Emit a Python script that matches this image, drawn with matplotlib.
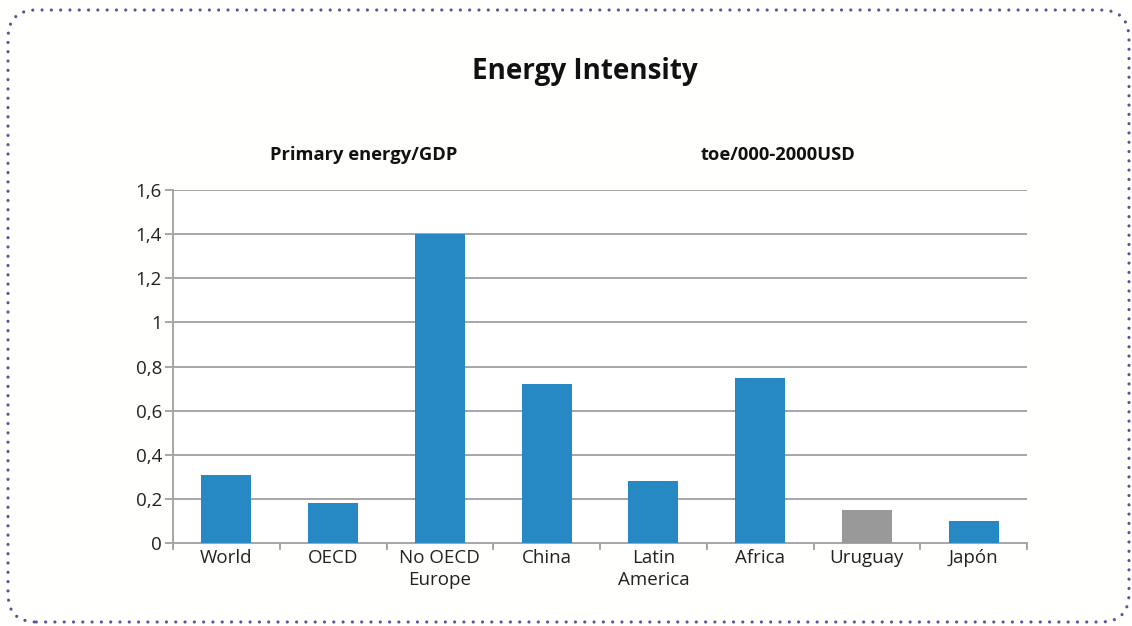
import matplotlib.pyplot as plt
from matplotlib.patches import FancyBboxPatch
import numpy as np

plt.rcParams['font.family'] = ['Open Sans', 'DejaVu Sans']

regions = ["World", "OECD", "No OECD\nEurope", "China", "Latin\nAmerica",
           "Africa", "Uruguay", "Japón"]
intensity = [0.31, 0.18, 1.40, 0.72, 0.28, 0.75, 0.15, 0.10]
bar_colors = ["#2789c4"] * 6 + ["#999999", "#2789c4"]
yticks = [0, 0.2, 0.4, 0.6, 0.8, 1, 1.2, 1.4, 1.6]
ytick_labels = ["0", "0,2", "0,4", "0,6", "0,8", "1", "1,2", "1,4", "1,6"]

fig = plt.figure(figsize=(11.32, 6.26), dpi=100)
fig.patch.set_facecolor("#fffffd")

# dotted rounded frame around the whole panel
frame = FancyBboxPatch((8 / 1132, 4 / 626), 1121 / 1132, 612 / 626,
                       boxstyle="round,pad=0,rounding_size=0.025",
                       transform=fig.transFigure, fill=False,
                       edgecolor="#55559a", linewidth=2.3,
                       linestyle=(0, (0.01, 2.9)), capstyle="round",
                       mutation_aspect=1132 / 626)
fig.patches.append(frame)

ax = fig.add_axes([173 / 1132, 1 - 543 / 626, 854 / 1132, 353 / 626])
x = np.arange(len(regions))
ax.bar(x, intensity, width=0.47, color=bar_colors, zorder=3)

ax.set_xlim(-0.5, len(regions) - 0.5)
ax.set_ylim(0, 1.6)
ax.set_yticks(yticks)
ax.set_yticklabels(ytick_labels, fontsize=13.5, color="#222222")
ax.yaxis.grid(True, color="#a6a6a6", linewidth=1.4, zorder=0)
ax.set_xticks(x)
ax.set_xticklabels(regions, fontsize=13.5, color="#222222", linespacing=1.3)
ax.set_xticks(np.arange(-0.5, len(regions)), minor=True)
ax.tick_params(axis="x", which="major", length=0, pad=4)
ax.tick_params(axis="x", which="minor", length=5, color="#a6a6a6", width=1.4)
ax.tick_params(axis="y", length=6, color="#a6a6a6", width=1.4, pad=2)

for side in ["top", "right"]:
    ax.spines[side].set_visible(False)
for side in ["left", "bottom"]:
    ax.spines[side].set_color("#a6a6a6")
    ax.spines[side].set_linewidth(1.4)

fig.text(585 / 1132, 1 - 72 / 626, "Energy Intensity", ha="center", va="center",
         fontsize=20, fontweight="bold", color="#111111")
fig.text(364 / 1132, 1 - 155 / 626, "Primary energy/GDP", ha="center", va="center",
         fontsize=13.2, fontweight="bold", color="#111111")
fig.text(778 / 1132, 1 - 155 / 626, "toe/000-2000USD", ha="center", va="center",
         fontsize=13.2, fontweight="bold", color="#111111")

fig.savefig("out.png", dpi=100, facecolor=fig.get_facecolor())
